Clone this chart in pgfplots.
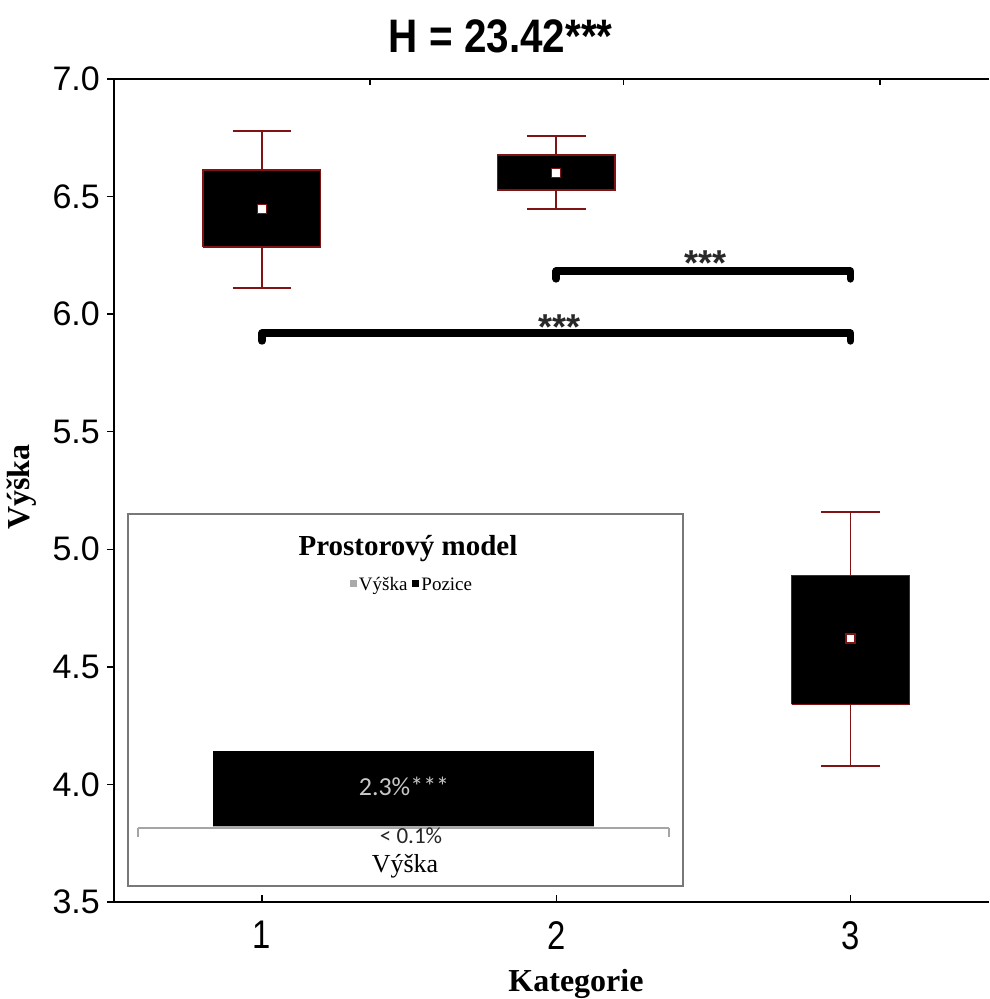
\documentclass[border=0pt]{standalone}
\usepackage{fontspec}
\setmainfont{Liberation Serif}
\newfontfamily\arial{Liberation Sans}
\newfontfamily\arialn{Liberation Sans}[FakeStretch=0.82]
\newfontfamily\arialt{Liberation Sans}[FakeStretch=0.86]
\newfontfamily\calibri{Carlito}
\usepackage{pgfplots}
\pgfplotsset{compat=1.18}
\definecolor{wred}{RGB}{128,20,20}
\definecolor{lgray}{RGB}{165,165,165}
\definecolor{fgray}{RGB}{120,120,120}
\definecolor{vgray}{RGB}{170,170,170}
\definecolor{stargray}{RGB}{40,40,40}
\begin{document}
\begin{tikzpicture}
\path[use as bounding box] (-114pt,-97pt) rectangle (875pt,902pt);
\begin{axis}[
  at={(0pt,0pt)}, anchor=south west,
  scale only axis, width=875pt, height=823pt,
  xmin=0.497, xmax=3.471, ymin=3.5, ymax=7,
  axis x line*=box, axis y line*=left,
  axis line style={-, line width=1.8pt, black},
  xtick={1,2,3}, xtick pos=bottom, ytick pos=left,
  ytick={3.5,4,4.5,5,5.5,6,6.5,7},
  tick align=inside,
  major tick length=7pt,
  tick style={line width=1.4pt, black},
  ytick style={xshift=-7pt},
  /pgf/number format/assume math mode=true,
  yticklabel style={font=\fontsize{34}{34}\selectfont\arial, anchor=east, inner sep=0pt, xshift=-14pt,
    /pgf/number format/.cd, fixed, fixed zerofill, precision=1, assume math mode=true},
  xticklabel style={font=\fontsize{40}{40}\selectfont\arialn, anchor=north, inner sep=0pt, yshift=-19pt},
  title={H = 23.42***},
  title style={font=\fontsize{47}{47}\selectfont\bfseries\arialt, at={(axis description cs:0.442,1.045)}, anchor=center, inner sep=0pt},
  xlabel={Kategorie}, ylabel={Výška},
  label style={font=\fontsize{32}{32}\selectfont\bfseries},
  xlabel style={at={(axis description cs:0.528,-0.1)}, anchor=center, inner sep=0pt},
  ylabel style={at={(axis description cs:-0.105,0.504)}, anchor=center, inner sep=0pt},
  clip=false,
  unbounded coords=jump,
]
% boxes (quartiles)
\addplot[fill=black, draw=wred, line width=1.3pt] coordinates {(0.8,6.285) (1.2,6.285) (1.2,6.613) (0.8,6.613) (0.8,6.285)};
\addplot[fill=black, draw=wred, line width=1.3pt] coordinates {(1.8,6.528) (2.2,6.528) (2.2,6.677) (1.8,6.677) (1.8,6.528)};
\addplot[fill=black, draw=wred, line width=1.3pt] coordinates {(2.8,4.34) (3.2,4.34) (3.2,4.889) (2.8,4.889) (2.8,4.34)};
% whiskers
\addplot[draw=wred, line width=1.8pt] coordinates {(1,6.613) (1,6.78) (1,nan) (0.9,6.78) (1.1,6.78) (1.1,nan) (1,6.285) (1,6.11) (1,nan) (0.9,6.11) (1.1,6.11)};
\addplot[draw=wred, line width=1.8pt] coordinates {(2,6.677) (2,6.757) (2,nan) (1.9,6.757) (2.1,6.757) (2.1,nan) (2,6.528) (2,6.447) (2,nan) (1.9,6.447) (2.1,6.447)};
\addplot[draw=wred, line width=1.8pt] coordinates {(3,4.889) (3,5.157) (3,nan) (2.9,5.157) (3.1,5.157) (3.1,nan) (3,4.34) (3,4.077) (3,nan) (2.9,4.077) (3.1,4.077)};
% means
\addplot[only marks, mark=square*, mark size=4.5pt, mark options={fill=white, draw=wred, line width=1.4pt}] coordinates {(1,6.447) (2,6.6) (3,4.621)};
% significance brackets
\addplot[line width=7.5pt, line cap=round, line join=round, black] coordinates {(2,6.15) (2,6.183) (3,6.183) (3,6.15)};
\addplot[line width=7.5pt, line cap=round, line join=round, black] coordinates {(1,5.886) (1,5.919) (3,5.919) (3,5.886)};
\node[anchor=base, font=\fontsize{36}{36}\selectfont\bfseries\arial, text=stargray, inner sep=0pt] at (axis cs:2.508,6.165) {***};
\node[anchor=base, font=\fontsize{36}{36}\selectfont\bfseries\arial, text=stargray, inner sep=0pt] at (axis cs:2.012,5.892) {***};
\end{axis}
% stray top ticks
\begin{axis}[
  at={(0pt,0pt)}, anchor=south west,
  scale only axis, width=875pt, height=823pt,
  xmin=0.497, xmax=3.471, ymin=3.5, ymax=7,
  axis x line*=top, hide y axis,
  axis line style={-, line width=1.8pt, black},
  xtick={1.367,2.229,3.10}, xticklabels={}, xtick pos=right,
  tick align=inside, major tick length=6pt,
  tick style={line width=1.4pt, black},
]
\addplot[draw=none] coordinates {(1,5)};
\end{axis}
% inset frame
\draw[fgray, line width=1.4pt, fill=white] (14pt,16pt) rectangle (569pt,388pt);
\begin{axis}[
  at={(24pt,74pt)}, anchor=south west,
  scale only axis, width=531pt, height=228pt,
  xmin=-0.5, xmax=0.5, ymin=0, ymax=7,
  axis x line*=bottom, hide y axis,
  axis line style={-, draw=lgray, line width=1.3pt},
  xtick={-0.5,0.5}, xticklabels={}, xtick pos=left,
  tick align=outside, major tick length=9pt,
  tick style={draw=lgray, line width=1.3pt},
  ybar stacked, bar width=0.716,
  clip=false,
  legend columns=2,
  legend style={draw=none, fill=none, at={(0.516,1.066)}, anchor=center, inner sep=0pt,
    font=\fontsize{19}{19}\selectfont, /tikz/every even column/.append style={column sep=3pt}},
]
\addplot[fill=vgray, draw=none, legend image code/.code={\fill[vgray] (0pt,-2pt) rectangle (7pt,5pt);}] coordinates {(0,0.05)};
\addlegendentry{Výška}
\addplot[fill=black, draw=none, legend image code/.code={\fill[black] (0pt,-2pt) rectangle (7pt,5pt);}] coordinates {(0,2.3)};
\addlegendentry{Pozice}
\end{axis}
\node[font=\fontsize{29}{29}\selectfont\bfseries] at (294pt,353pt) {Prostorový model};
\node[font=\fontsize{26}{26}\selectfont\calibri, text=black!22] at (290pt,116pt) {2.3\%***};
\node[font=\fontsize{23}{23}\selectfont\calibri, text=black!85] at (297pt,66pt) {< 0.1\%};
\node[font=\fontsize{26}{26}\selectfont] at (291pt,36pt) {Výška};
\end{tikzpicture}
\end{document}
